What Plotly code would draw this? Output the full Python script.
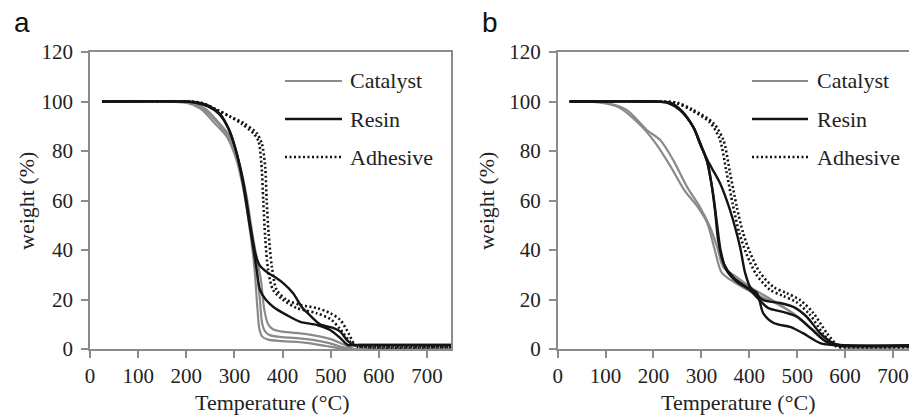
import plotly.graph_objects as go

# ---- data ----
# panel a
a_catalyst_temp = [
    [25, 150, 200, 230, 260, 285, 305, 320, 333, 342, 348, 352, 358, 370, 400, 450, 490, 515, 535, 750],
    [25, 150, 205, 235, 262, 287, 307, 322, 335, 344, 352, 358, 364, 375, 400, 450, 495, 520, 545, 750],
    [25, 150, 210, 240, 265, 290, 310, 325, 337, 346, 355, 362, 370, 380, 400, 450, 500, 525, 550, 750],
]
a_catalyst_weight = [
    [100, 100, 99.5, 97, 91, 85.5, 76, 63, 47, 32, 16, 8, 5, 3.8, 3.2, 2.5, 1.2, 0.4, 0, 0],
    [100, 100, 99.5, 97, 92, 86, 76, 63, 47, 35, 22, 10, 7, 5.5, 4.8, 4, 2.5, 1, 0, 0],
    [100, 100, 99.5, 97, 92, 86, 75, 62, 47, 37, 28, 16, 10, 8, 7, 6, 4, 2, 0, 0],
]
a_resin_temp = [
    [25, 200, 225, 250, 270, 290, 305, 320, 333, 343, 352, 368, 385, 402, 422, 440, 455, 478, 505, 520, 534, 548, 560, 750],
    [25, 195, 220, 245, 268, 288, 302, 317, 330, 340, 347, 353, 365, 381, 409, 437, 472, 499, 520, 536, 550, 750],
]
a_resin_weight = [
    [100, 100, 99.5, 98, 95, 88, 79, 66, 50, 39, 34, 31, 29, 26.5, 22.5, 17, 14, 10, 8.5, 7, 3.6, 1.6, 1.6, 1.6],
    [100, 100, 99.5, 98, 95, 89, 81, 68, 52, 40, 31, 24, 20, 17, 13.7, 11, 9.7, 7.7, 4.4, 1.6, 1.6, 1.6],
]
a_adhesive_temp = [
    [25, 200, 230, 264, 290, 319, 346, 357, 364, 367, 371, 378, 388, 409, 437, 472, 499, 520, 537, 551, 570, 750],
    [25, 200, 230, 260, 290, 315, 340, 350, 356, 360, 364, 370, 380, 400, 430, 470, 500, 520, 540, 555, 570, 750],
]
a_adhesive_weight = [
    [100, 100, 99.5, 96.6, 94, 91.3, 87.3, 83, 73.5, 60, 47, 33, 23.8, 19.8, 17.8, 16.5, 14.5, 11.7, 6.4, 1.6, 0.8, 0.8],
    [100, 100, 99.5, 97, 94, 91, 87, 84, 75, 60, 45, 32, 24, 20, 16.5, 14.5, 12, 8, 3, 1, 0.8, 0.8],
]

# panel b
b_catalyst_temp = [
    [25, 100, 144, 186, 214, 241, 270, 297, 318, 333, 346, 374, 402, 437, 471, 499, 533, 568, 596, 750],
    [25, 90, 130, 175, 205, 235, 265, 290, 312, 328, 342, 360, 390, 420, 460, 495, 530, 565, 595, 750],
]
b_catalyst_weight = [
    [100, 99.5, 96.6, 88.5, 84.4, 76.4, 65.5, 57.4, 49.3, 41.2, 33, 29, 25, 21, 17, 13, 7.7, 2.4, 0.8, 0.8],
    [100, 99.5, 97.4, 90, 83, 74, 64, 58, 51, 40, 31, 28, 24.5, 21.5, 18, 14, 8, 2.5, 0.8, 0.8],
]
b_resin_temp = [
    [25, 200, 230, 255, 283, 297, 311, 322, 329, 335, 346, 367, 395, 416, 429, 451, 485, 512, 548, 583, 750],
    [25, 200, 230, 255, 283, 297, 311, 322, 339, 360, 381, 391, 402, 429, 464, 492, 520, 548, 575, 596, 750],
    [25, 200, 235, 260, 285, 300, 313, 325, 333, 340, 352, 375, 400, 425, 440, 470, 500, 530, 560, 590, 750],
]
b_resin_weight = [
    [100, 100, 99.5, 96.6, 89.7, 83, 76.4, 65.5, 54.9, 44, 34.7, 29, 25, 22.6, 14.5, 10.5, 8.9, 6.4, 2.4, 1.5, 1.5],
    [100, 100, 99.5, 96.6, 89.7, 83, 77, 73, 67, 56, 41, 31, 25, 19.8, 18.6, 17, 13, 6.4, 2.4, 1.5, 1.5],
    [100, 100, 99.5, 96, 89, 82, 75, 62, 50, 40, 32, 27, 24, 19, 16.5, 15, 13, 8, 3, 1.5, 1.5],
]
b_adhesive_temp = [
    [25, 200, 250, 283, 325, 346, 360, 374, 387, 402, 423, 451, 478, 506, 534, 562, 589, 610, 750],
    [25, 200, 245, 278, 318, 338, 352, 366, 379, 394, 415, 443, 470, 498, 526, 555, 582, 600, 750],
]
b_adhesive_weight = [
    [100, 100, 99.5, 96.6, 91.3, 84.4, 71, 57.4, 46.9, 38.8, 30.7, 25, 22.6, 19.8, 14.5, 6.4, 0.8, 0.8, 0.8],
    [100, 100, 99.5, 96.6, 91.5, 85, 72, 58, 47, 38.5, 30, 24, 21.5, 19, 14, 6, 1, 0.8, 0.8],
]

legend_names = ["Catalyst", "Resin", "Adhesive"]
x_ticks = [0, 100, 200, 300, 400, 500, 600, 700]
y_ticks = [0, 20, 40, 60, 80, 100, 120]

SERIF = "Liberation Serif, Times New Roman, serif"
SANS = "Liberation Sans, Arial, sans-serif"
AXIS_GRAY = "#8c8c8c"
CAT_GRAY = "#8a8a8a"
INK = "#141414"
W, H = 909, 420

styles = {
    "Catalyst": dict(color=CAT_GRAY, width=2.2, dash="solid"),
    "Resin": dict(color=INK, width=2.4, dash="solid"),
    "Adhesive": dict(color=INK, width=2.6, dash="2px,2.5px"),
}

fig = go.Figure()


def add_group(temps, weights, name, xa, ya):
    for t, w in zip(temps, weights):
        fig.add_trace(go.Scatter(
            x=t, y=w, mode="lines", xaxis=xa, yaxis=ya,
            line=dict(shape="spline", smoothing=0.8, **styles[name]),
            showlegend=False, hoverinfo="skip",
        ))


add_group(a_catalyst_temp, a_catalyst_weight, "Catalyst", "x", "y")
add_group(a_resin_temp, a_resin_weight, "Resin", "x", "y")
add_group(a_adhesive_temp, a_adhesive_weight, "Adhesive", "x", "y")
add_group(b_catalyst_temp, b_catalyst_weight, "Catalyst", "x2", "y2")
add_group(b_resin_temp, b_resin_weight, "Resin", "x2", "y2")
add_group(b_adhesive_temp, b_adhesive_weight, "Adhesive", "x2", "y2")

axis_common = dict(
    showline=True, linecolor=AXIS_GRAY, linewidth=1.5,
    ticks="outside", ticklen=7, tickwidth=1.5, tickcolor=AXIS_GRAY,
    showgrid=False, zeroline=False, automargin=False,
    tickfont=dict(family=SERIF, size=21, color="#222"),
)
ydom = [1 - 349 / H, 1 - 52 / H]

fig.update_layout(
    width=W, height=H,
    margin=dict(l=0, r=0, t=0, b=0),
    paper_bgcolor="white", plot_bgcolor="white",
    template="none",
    xaxis=dict(domain=[90 / W, 451 / W], range=[0, 750], tickvals=x_ticks,
               mirror=True, anchor="y", ticklabelstandoff=0, **axis_common),
    yaxis=dict(domain=ydom, range=[0, 120], tickvals=y_ticks,
               mirror=True, anchor="x", ticklabelstandoff=4, **axis_common),
    xaxis2=dict(domain=[557.7 / W, 1.0], range=[0, 733.5], tickvals=x_ticks,
                mirror=True, anchor="y2", ticklabelstandoff=0, **axis_common),
    yaxis2=dict(domain=ydom, range=[0, 120], tickvals=y_ticks,
                mirror=False, anchor="x2", ticklabelstandoff=4, **axis_common),
)

annotations = []
shapes = []

# axis titles and panel letters, one set per panel
for x_title, x_ytitle, x_letter, letter in [(272, 26, 12, "a"), (738, 486, 480, "b")]:
    annotations.append(dict(
        x=x_title / W, y=1 - 402 / H, xref="paper", yref="paper",
        text="Temperature (°C)", showarrow=False,
        font=dict(family=SERIF, size=22, color="#222"),
        xanchor="center", yanchor="middle",
    ))
    annotations.append(dict(
        x=x_ytitle / W, y=1 - 201 / H, xref="paper", yref="paper",
        text="weight (%)", showarrow=False, textangle=-90,
        font=dict(family=SERIF, size=22, color="#222"),
        xanchor="center", yanchor="middle",
    ))
    annotations.append(dict(
        x=x_letter / W, y=1 - 22 / H, xref="paper", yref="paper",
        text=letter, showarrow=False,
        font=dict(family=SANS, size=28, color="#111"),
        xanchor="left", yanchor="middle",
    ))

# hand-drawn legends (long sample lines like the original)
for x0, x1, xt in [(285, 342, 348), (752, 808, 815)]:
    for name, ypx in zip(legend_names, [81, 119, 157]):
        st = styles[name]
        shapes.append(dict(
            type="line", xref="paper", yref="paper",
            x0=x0 / W, x1=x1 / W, y0=1 - ypx / H, y1=1 - ypx / H,
            line=dict(color=st["color"], width=st["width"], dash=st["dash"]),
        ))
        annotations.append(dict(
            x=xt / W, y=1 - ypx / H, xref="paper", yref="paper",
            text=name, showarrow=False,
            font=dict(family=SERIF, size=22, color="#222"),
            xanchor="left", yanchor="middle",
        ))

fig.update_layout(annotations=annotations, shapes=shapes)

# the page's default 8px body margin would shift the whole figure
fig.write_html(
    "out.html",
    config={"displayModeBar": False},
    post_script="document.body.style.margin='0px';document.body.style.overflow='hidden';",
)
